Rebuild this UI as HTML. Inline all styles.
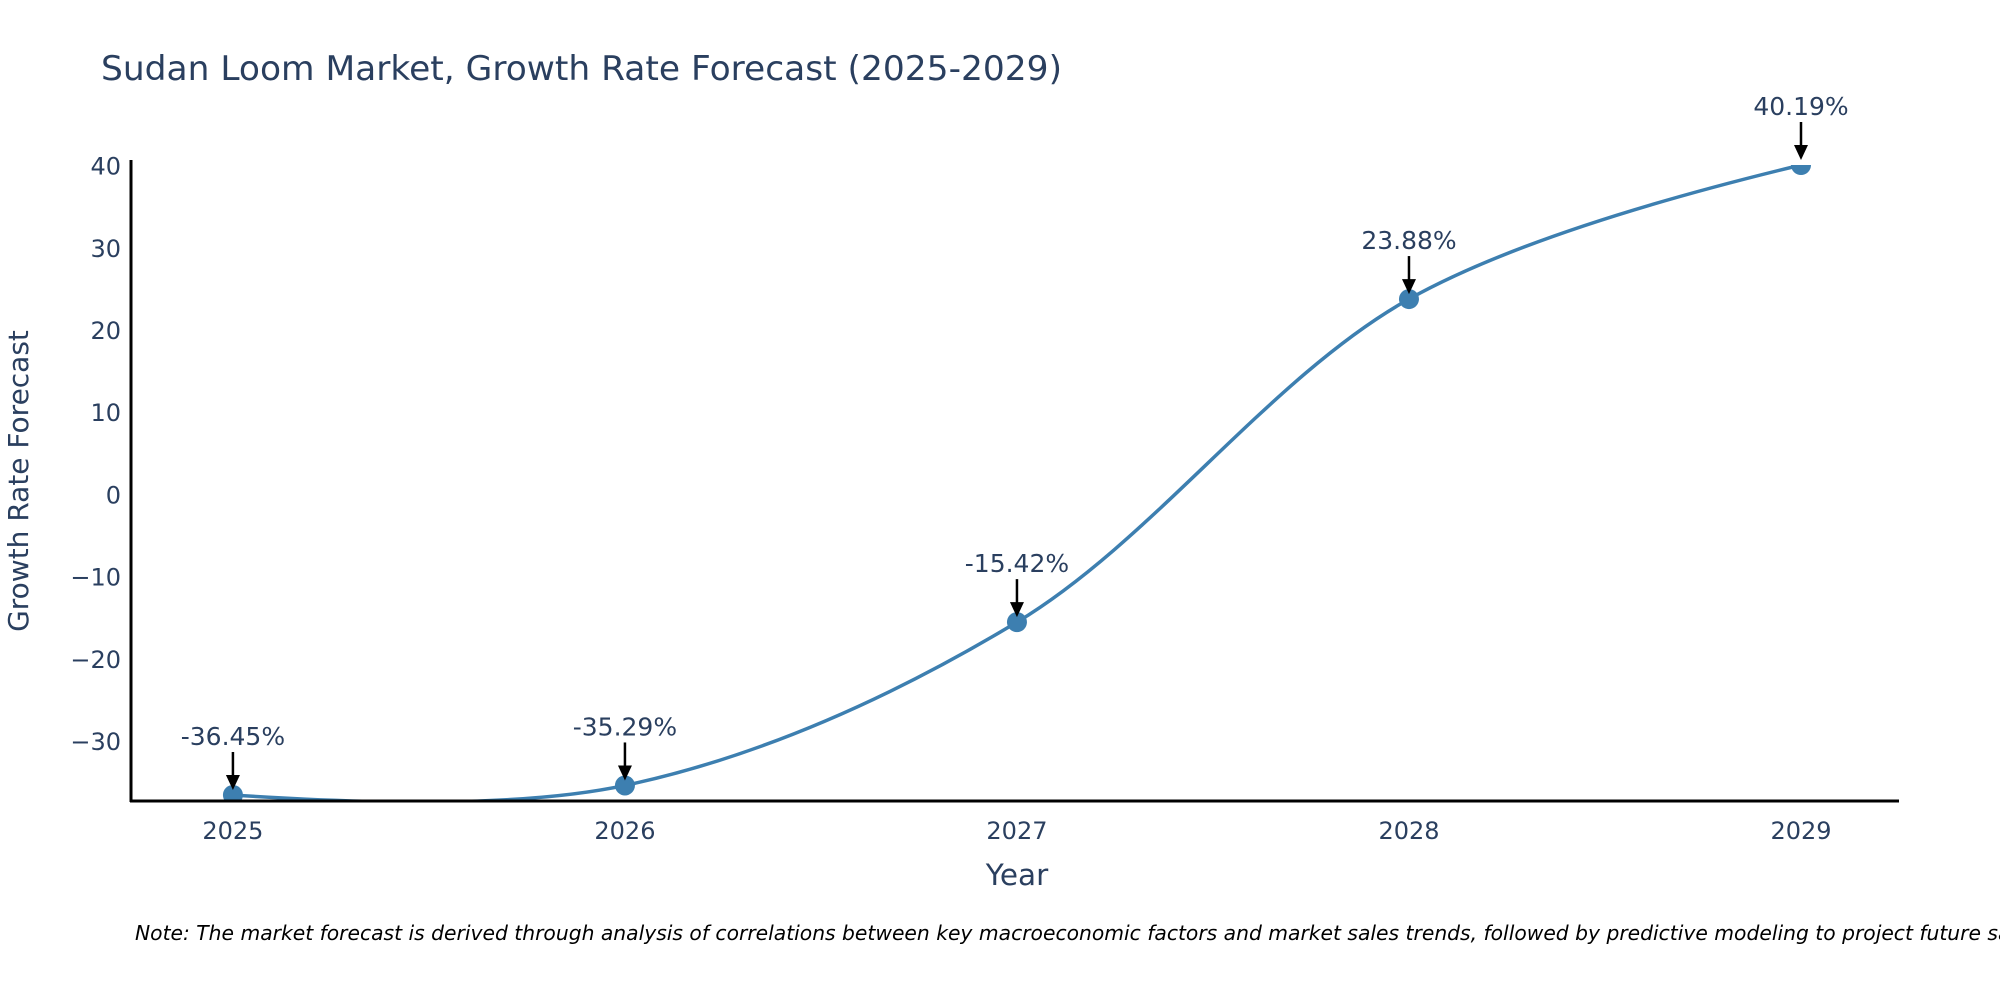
<!DOCTYPE html>
<html><head><meta charset="utf-8"><style>
body{margin:0;background:#fff;}
svg text{font-family:"DejaVu Sans","Liberation Sans",sans-serif;fill:#2a3f5f;}
</style></head><body>
<svg width="2000" height="1000" xmlns="http://www.w3.org/2000/svg">
<defs>
<clipPath id="pc"><rect x="131" y="165" width="1768" height="636"/></clipPath>
</defs>
<text x="101" y="80" font-size="34" textLength="961" lengthAdjust="spacingAndGlyphs">Sudan Loom Market, Growth Rate Forecast (2025-2029)</text>
<g id="yticks"></g>
<g id="xticks"></g>
<g id="series" clip-path="url(#pc)"></g>
<g id="markers"></g>
<g id="annots"></g>
<line x1="131" y1="160" x2="131" y2="802" stroke="#000" stroke-width="3"/>
<line x1="130" y1="801" x2="1899" y2="801" stroke="#000" stroke-width="3"/>
<text x="28" y="481" font-size="28" text-anchor="middle" transform="rotate(-90 28 481)">Growth Rate Forecast</text>
<text x="1017" y="885" font-size="29.5" text-anchor="middle">Year</text>
<text x="135" y="940" font-size="20.3" font-style="italic" style="fill:#000">Note: The market forecast is derived through analysis of correlations between key macroeconomic factors and market sales trends, followed by predictive modeling to project future sales.</text>
</svg>
<script>
const years=[2025,2026,2027,2028,2029];
const values=[-36.45,-35.29,-15.42,23.88,40.19];
const labels=["-36.45%","-35.29%","-15.42%","23.88%","40.19%"];
const yTicks=[-30,-20,-10,0,10,20,30,40];
const NS="http://www.w3.org/2000/svg";
const X0=131,X1=1899,Y0=165,Y1=801;
const xMin=2024.74,xMax=2029.25,yMin=-37.18,yMax=40.19;
const xs=v=>X0+(v-xMin)/(xMax-xMin)*(X1-X0);
const ys=v=>Y1-(v-yMin)/(yMax-yMin)*(Y1-Y0);
function mk(t,a,p){const e=document.createElementNS(NS,t);for(const k in a)e.setAttribute(k,a[k]);p.appendChild(e);return e;}
const gy=document.getElementById('yticks');
yTicks.forEach(t=>{const e=mk('text',{x:X0-10,y:ys(t)+8,'font-size':24,'text-anchor':'end'},gy);


e.textContent=t<0?'\u2212'+Math.abs(t):String(t);});
const gx=document.getElementById('xticks');
years.forEach(y=>{const e=mk('text',{x:xs(y),y:Y1+38,'font-size':24,'text-anchor':'middle'},gx);


e.textContent=y;});
const pts=years.map((y,i)=>[xs(y),ys(values[i])]);
function tang(p,t,n,s){const d1x=p[0]-t[0],d1y=p[1]-t[1],d2x=n[0]-t[0],d2y=n[1]-t[1];
const d1a=Math.pow(d1x*d1x+d1y*d1y,0.25),d2a=Math.pow(d2x*d2x+d2y*d2y,0.25);
const nx=(d2a*d2a*d1x-d1a*d1a*d2x)*s,ny=(d2a*d2a*d1y-d1a*d1a*d2y)*s;
const de1=3*d2a*(d1a+d2a),de2=3*d1a*(d1a+d2a);
return [[t[0]+nx/de1,t[1]+ny/de1],[t[0]-nx/de2,t[1]-ny/de2]];}
const tg=[];for(let i=1;i<pts.length-1;i++)tg.push(tang(pts[i-1],pts[i],pts[i+1],1));
let d='M'+pts[0]+'Q'+tg[0][0]+' '+pts[1];
for(let i=2;i<pts.length-1;i++)d+='C'+tg[i-2][1]+' '+tg[i-1][0]+' '+pts[i];
d+='Q'+tg[tg.length-1][1]+' '+pts[pts.length-1];
const line=mk('path',{d:d,fill:'none',stroke:'#3d7fb0','stroke-width':3.5},document.getElementById('series'));


const gm=document.getElementById('markers'),ga=document.getElementById('annots');
pts.forEach((p,i)=>{
const c=mk('circle',{cx:p[0],cy:p[1],r:10,fill:'#3d7fb0','clip-path':'url(#pc)'},gm);


const a=mk('line',{x1:p[0],y1:p[1]-43,x2:p[0],y2:p[1]-18,stroke:'#000','stroke-width':2.5},ga);


const h=mk('polygon',{points:(p[0]-7)+','+(p[1]-20)+' '+(p[0]+7)+','+(p[1]-20)+' '+p[0]+','+(p[1]-5),fill:'#000'},ga);


const t=mk('text',{x:p[0],y:p[1]-50,'font-size':25,'text-anchor':'middle'},ga);


t.textContent=labels[i];});
</script>
</body></html>
